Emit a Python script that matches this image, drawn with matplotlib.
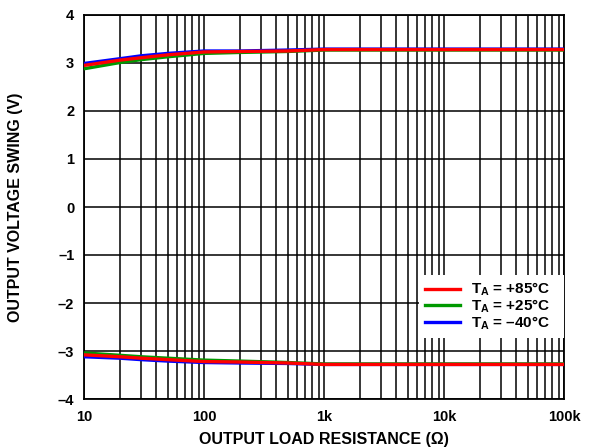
import matplotlib
matplotlib.use("Agg")
import matplotlib.pyplot as plt
from matplotlib.ticker import FixedLocator, LogLocator, NullFormatter

plt.rcParams['font.family'] = ['Liberation Sans', 'DejaVu Sans']
plt.rcParams['mathtext.fontset'] = 'custom'
plt.rcParams['mathtext.rm'] = 'Liberation Sans:bold'
plt.rcParams['mathtext.bf'] = 'Liberation Sans:bold'
plt.rcParams['mathtext.it'] = 'Liberation Sans:bold'

# Load resistance (ohms)
load_ohms = [10, 20, 30, 50, 100, 200, 500, 1000, 2000, 10000, 100000]

# Positive output swing (V)
pos_85 = [2.95, 3.06, 3.11, 3.17, 3.23, 3.24, 3.25, 3.28, 3.28, 3.28, 3.28]
pos_25 = [2.88, 3.01, 3.07, 3.13, 3.20, 3.22, 3.24, 3.27, 3.27, 3.27, 3.27]
pos_m40 = [2.99, 3.09, 3.15, 3.20, 3.25, 3.25, 3.27, 3.29, 3.29, 3.29, 3.29]

# Negative output swing (V)
neg_85 = [-3.08, -3.12, -3.15, -3.18, -3.22, -3.23, -3.25, -3.28, -3.28, -3.28, -3.28]
neg_25 = [-3.04, -3.09, -3.12, -3.15, -3.19, -3.21, -3.24, -3.27, -3.27, -3.27, -3.27]
neg_m40 = [-3.12, -3.15, -3.18, -3.21, -3.24, -3.25, -3.26, -3.28, -3.28, -3.28, -3.28]

series_labels = [r'$\mathbf{T_A}$ = +85°C', r'$\mathbf{T_A}$ = +25°C', r'$\mathbf{T_A}$ = –40°C']
series_colors = ['#ff0000', '#009900', '#0000ff']

x_ticks = [10, 100, 1000, 10000, 100000]
x_ticklabels = ['10', '100', '1k', '10k', '100k']
y_ticks = [-4, -3, -2, -1, 0, 1, 2, 3, 4]
y_ticklabels = ['–4', '–3', '–2', '–1', '0', '1', '2', '3', '4']

fig = plt.figure(figsize=(5.9, 4.48), dpi=100)
ax = fig.add_axes([84 / 590, 49 / 448, 480 / 590, 384 / 448])

# blue underneath, then green, red on top
for pos, neg, c, lab, z in [(pos_m40, neg_m40, series_colors[2], series_labels[2], 3),
                            (pos_25, neg_25, series_colors[1], series_labels[1], 4),
                            (pos_85, neg_85, series_colors[0], series_labels[0], 5)]:
    ax.plot(load_ohms, pos, color=c, lw=2.4, zorder=z, label=lab)
    ax.plot(load_ohms, neg, color=c, lw=2.4, zorder=z)

ax.set_xscale('log')
ax.set_xlim(10, 100000)
ax.set_ylim(-4, 4)
ax.xaxis.set_major_locator(FixedLocator(x_ticks))
ax.set_xticklabels(x_ticklabels)
ax.xaxis.set_minor_locator(LogLocator(base=10, subs=range(2, 10)))
ax.xaxis.set_minor_formatter(NullFormatter())
ax.set_yticks(y_ticks)
ax.set_yticklabels(y_ticklabels)

ax.grid(which='major', axis='both', color='black', lw=1.1)
ax.grid(which='minor', axis='x', color='black', lw=1.1)
ax.set_axisbelow(True)
for sp in ax.spines.values():
    sp.set_linewidth(1.3)
ax.tick_params(which='both', length=0, labelsize=10.5)
ax.tick_params(axis='y', pad=7)
ax.tick_params(axis='x', pad=8)
for t in ax.get_xticklabels() + ax.get_yticklabels():
    t.set_fontweight('bold')

ax.set_xlabel('OUTPUT LOAD RESISTANCE (Ω)', fontsize=11.5, fontweight='bold', labelpad=6)
ax.set_ylabel('OUTPUT VOLTAGE SWING (V)', fontsize=11.5, fontweight='bold')
ax.yaxis.set_label_coords(-0.127, 0.5)

handles, labels = ax.get_legend_handles_labels()
order = [2, 1, 0]
leg = ax.legend([handles[i] for i in order], [labels[i] for i in order],
                loc='upper left', bbox_to_anchor=(0.697, 0.154, 0.303, 0.169),
                mode='expand', frameon=True,
                fancybox=False, edgecolor='white', framealpha=1.0,
                prop={'weight': 'bold', 'size': 11}, handlelength=2.3,
                handletextpad=0.7, labelspacing=-0.05, borderpad=0.4,
                borderaxespad=0.0)
leg.get_frame().set_linewidth(0)
leg.set_zorder(10)

fig.savefig('out.png', dpi=100)
